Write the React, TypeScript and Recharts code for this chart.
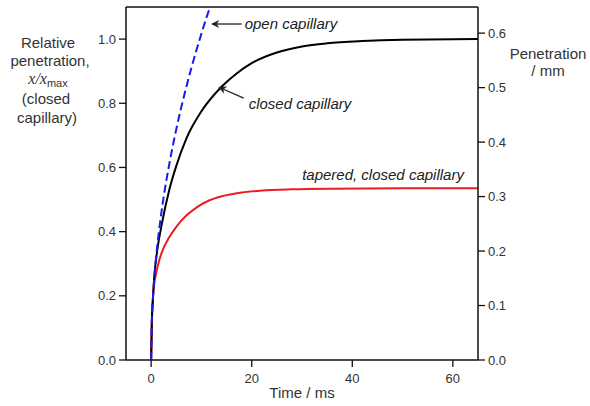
import React from 'react';
import { LineChart, Line, XAxis, YAxis, ReferenceLine, ReferenceDot } from 'recharts';

// Time / ms and relative penetration x/xmax
const openTime = [0, 0.1, 0.3, 0.6, 1, 2, 3, 4, 5, 6, 7, 8, 9, 10, 11, 11.7];
const openPen = [0, 0.1, 0.176, 0.249, 0.322, 0.455, 0.557, 0.643, 0.719, 0.788, 0.851, 0.91, 0.965, 1.017, 1.067, 1.1];

const closedTime = [0, 0.15, 0.35, 0.6, 1.2, 2.2, 3.6, 5, 7, 10, 13.9, 17, 20, 25, 30, 35, 42, 50, 65];
const closedPen = [0, 0.12, 0.19, 0.255, 0.34, 0.43, 0.53, 0.605, 0.69, 0.775, 0.85, 0.893, 0.925, 0.958, 0.977, 0.987, 0.994, 0.998, 1.0];

const taperedTime = [0, 0.1, 0.3, 0.6, 1, 1.6, 2.5, 3.5, 5, 7, 9, 11.5, 14, 18, 22, 28, 36, 50, 65];
const taperedPen = [0, 0.1, 0.18, 0.235, 0.27, 0.31, 0.35, 0.38, 0.415, 0.45, 0.475, 0.497, 0.51, 0.522, 0.528, 0.532, 0.534, 0.535, 0.535];

const xTicks = [0, 20, 40, 60];
const leftTicks = [0, 0.2, 0.4, 0.6, 0.8, 1.0];
const rightTicks = [0, 0.1, 0.2, 0.3, 0.4, 0.5, 0.6];

const toRows = (ts: number[], vs: number[]) => ts.map((t, i) => ({ t, v: vs[i] }));
const openData = toRows(openTime, openPen);
const closedData = toRows(closedTime, closedPen);
const taperedData = toRows(taperedTime, taperedPen);

const FONT = '"Liberation Sans", Arial, sans-serif';
const TXT = '#333';

const arrowShape = (p: any) => (
  <line x1={p.x1} y1={p.y1} x2={p.x2} y2={p.y2} stroke="#222" strokeWidth={1.3} markerEnd="url(#arrowHead)" />
);

const annot = (text: string, anchor: 'start' | 'end') => (p: any) => {
  const vb = p.viewBox || {};
  const x = (vb.x ?? 0) + (vb.width ?? 0) / 2;
  const y = (vb.y ?? 0) + (vb.height ?? 0) / 2;
  return (
    <text x={x} y={y} dy="0.35em" textAnchor={anchor} fontFamily={FONT} fontSize={15} fontStyle="italic" fill="#222">
      {text}
    </text>
  );
};

const leftLabel = () => (
  <g fontFamily={FONT} fontSize={15} fill={TXT} textAnchor="middle">
    <text x={48} y={48}>Relative</text>
    <text x={50} y={66}>penetration,</text>
    <text x={48} y={84}>
      <tspan fontFamily='"Liberation Serif", serif' fontStyle="italic" fontSize={16}>x</tspan>
      <tspan fontFamily='"Liberation Serif", serif' fontStyle="italic" fontSize={16}>/</tspan>
      <tspan fontFamily='"Liberation Serif", serif' fontStyle="italic" fontSize={16}>x</tspan>
      <tspan fontSize={11} dy={3}>max</tspan>
    </text>
    <text x={46} y={104}>(closed</text>
    <text x={47} y={123}>capillary)</text>
  </g>
);

const rightLabel = () => (
  <g fontFamily={FONT} fontSize={15} fill={TXT} textAnchor="middle">
    <text x={548} y={59}>Penetration</text>
    <text x={548} y={76}>/ mm</text>
  </g>
);

const xLabel = () => (
  <text x={302} y={398} textAnchor="middle" fontFamily={FONT} fontSize={15} fill={TXT}>
    Time / ms
  </text>
);

export default function App() {
  const tickStyle = { fontFamily: FONT, fontSize: 13, fill: TXT };
  return (
    <div style={{ position: 'absolute', left: 0, top: 0, width: 590, height: 406, background: '#fff' }}>
      <LineChart width={590} height={406} margin={{ top: 7, right: 0, bottom: 0, left: 0 }}>
        <defs>
          <marker id="arrowHead" viewBox="0 0 10 10" refX="9" refY="5" markerWidth="8" markerHeight="8" markerUnits="userSpaceOnUse" orient="auto">
            <path d="M0,0 L10,5 L0,10 L3,5 z" fill="#222" />
          </marker>
        </defs>
        <XAxis
          dataKey="t"
          type="number"
          domain={[-5, 65]}
          ticks={xTicks}
          allowDataOverflow
          height={46}
          tickSize={7}
          tickMargin={7}
          tick={tickStyle}
          axisLine={{ stroke: '#111', strokeWidth: 1.5 }}
          tickLine={{ stroke: '#111', strokeWidth: 1.3 }}
          label={{ content: xLabel }}
        />
        <YAxis
          yAxisId="left"
          type="number"
          domain={[0, 1.1]}
          ticks={leftTicks}
          allowDataOverflow
          width={126}
          tickSize={7}
          tickMargin={3}
          tick={tickStyle}
          tickFormatter={(v: number) => v.toFixed(1)}
          axisLine={{ stroke: '#111', strokeWidth: 1.5 }}
          tickLine={{ stroke: '#111', strokeWidth: 1.3 }}
          label={{ content: leftLabel }}
        />
        <YAxis
          yAxisId="right"
          orientation="right"
          type="number"
          domain={[0, 0.648]}
          ticks={rightTicks}
          allowDataOverflow
          width={112}
          tickSize={7}
          tickMargin={3}
          tick={tickStyle}
          tickFormatter={(v: number) => v.toFixed(1)}
          axisLine={{ stroke: '#111', strokeWidth: 1.5 }}
          tickLine={{ stroke: '#111', strokeWidth: 1.3 }}
          label={{ content: rightLabel }}
        />
        <ReferenceLine yAxisId="left" y={1.1} stroke="#111" strokeWidth={1.5} ifOverflow="visible" />
        <Line yAxisId="left" data={taperedData} dataKey="v" type="monotone" stroke="#ec1c24" strokeWidth={2} dot={false} isAnimationActive={false} />
        <Line yAxisId="left" data={closedData} dataKey="v" type="monotone" stroke="#000" strokeWidth={2} dot={false} isAnimationActive={false} />
        <Line yAxisId="left" data={openData} dataKey="v" type="monotone" stroke="#1a1aee" strokeWidth={2} strokeDasharray="8 4" dot={false} isAnimationActive={false} />
        <ReferenceLine yAxisId="left" segment={[{ x: 18, y: 1.047 }, { x: 12.1, y: 1.047 }]} shape={arrowShape} ifOverflow="visible" />
        <ReferenceLine yAxisId="left" segment={[{ x: 18.4, y: 0.816 }, { x: 13.5, y: 0.85 }]} shape={arrowShape} ifOverflow="visible" />
        <ReferenceDot yAxisId="left" x={18.6} y={1.047} r={0} fill="none" stroke="none" ifOverflow="visible" label={{ content: annot('open capillary', 'start') }} />
        <ReferenceDot yAxisId="left" x={19.4} y={0.797} r={0} fill="none" stroke="none" ifOverflow="visible" label={{ content: annot('closed capillary', 'start') }} />
        <ReferenceDot yAxisId="left" x={62.2} y={0.576} r={0} fill="none" stroke="none" ifOverflow="visible" label={{ content: annot('tapered, closed capillary', 'end') }} />
      </LineChart>
    </div>
  );
}
